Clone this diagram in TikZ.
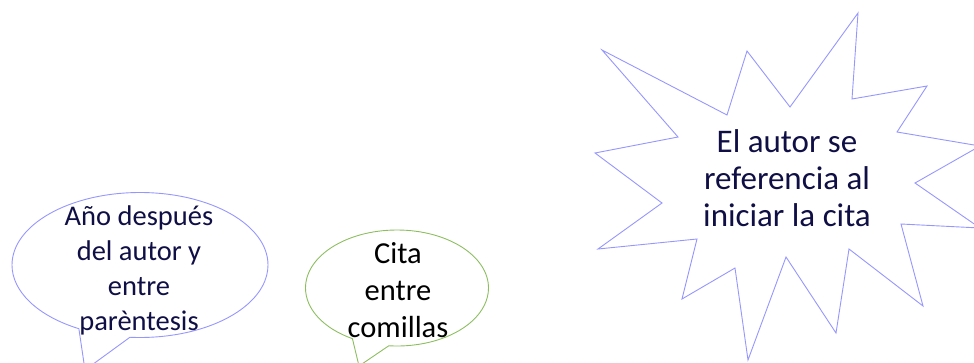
\documentclass[tikz,border=0pt]{standalone}
\usepackage{fontspec}
\setmainfont{Carlito}
\usetikzlibrary{shapes.callouts}
\definecolor{borde}{RGB}{150,150,255}
\definecolor{verde}{RGB}{140,190,95}
\definecolor{tinta}{RGB}{15,15,70}

\begin{document}
\begin{tikzpicture}[x=1pt,y=-1pt,
    globo/.style={ellipse callout, draw, line width=0.9pt, callout pointer arc=24},
    texto/.style={align=center, inner sep=0pt}]
  \useasboundingbox (0,0) rectangle (974,362);
  \clip (0,0) rectangle (974,362);

  % bocadillos
  \node[globo, borde, minimum width=256pt, minimum height=145pt,
        callout absolute pointer={(85,370)}] (anio) at (140,265) {};
  \node[texto, tinta, font=\fontsize{28.5}{35}\selectfont] (anioT) at (139,270)
    {Año después\\del autor y\\entre\\parèntesis};

  \node[globo, verde, minimum width=183pt, minimum height=116pt,
        callout absolute pointer={(359,366)}] (cita) at (397,288) {};
  \node[texto, black, font=\fontsize{30.5}{37}\selectfont] (citaT) at (398,290)
    {Cita\\entre\\comillas};

  % estrella
  \draw[borde, line width=0.9pt] (602,50) -- (727,115) -- (747,51) -- (790,107)
    -- (858,13) -- (852,99) -- (927,86) -- (897,132) -- (980,146) -- (915,183)
    -- (980,228) -- (901,224) -- (923,306) -- (849,249) -- (836,333) -- (786,257)
    -- (748,360) -- (735,268) -- (682,299) -- (697,239) -- (598,249) -- (662,203)
    -- (595,153) -- (678,137) -- cycle;
  \node[texto, tinta, font=\fontsize{33}{37}\selectfont] (autor) at (787,178)
    {El autor se\\referencia al\\iniciar la cita};
\end{tikzpicture}
\end{document}
